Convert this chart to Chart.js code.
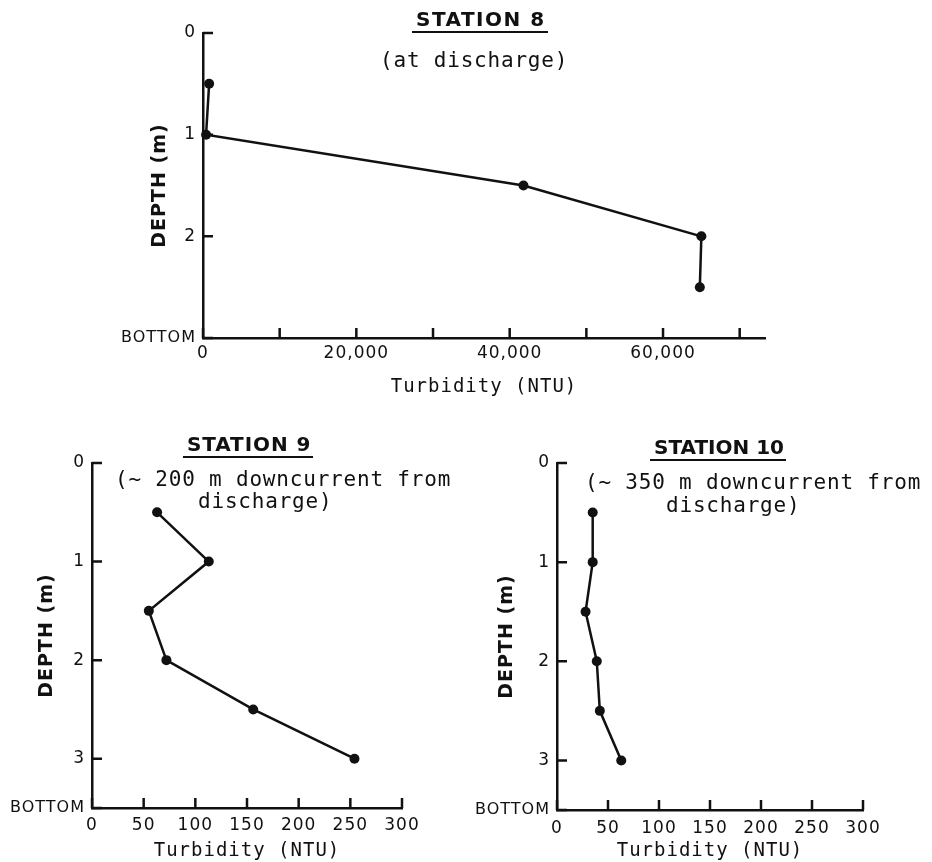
<!DOCTYPE html>
<html lang="en">
<head>
<meta charset="UTF-8">
<title>Turbidity profiles, stations 8-10</title>
<script src="https://cdn.jsdelivr.net/npm/chart.js"></script>
<style>
  body { margin: 0; background: #fff; width: 932px; height: 862px; position: relative; overflow: hidden; }
  .box { position: absolute; }
  .title {
    position: absolute; z-index: 2; white-space: nowrap;
    font-family: 'DejaVu Sans', sans-serif; font-weight: bold; font-size: 20px; line-height: 20px; color: #111;
    border-bottom: 2px solid #111; padding: 0 2px 2px 4px;
  }
  .note {
    position: absolute; z-index: 2; white-space: pre;
    font-family: 'DejaVu Sans Mono', monospace; font-size: 21px; line-height: 21px;
    letter-spacing: 0.8px; color: #111;
  }
</style>
</head>
<body>

<div class="title" style="left:412px;top:9px;letter-spacing:1.5px">STATION 8</div>
<div class="note" style="left:380px;top:50px">(at discharge)</div>

<div class="title" style="left:183px;top:434px;letter-spacing:0.9px">STATION 9</div>
<div class="note" style="left:115px;top:469px">(∼ 200 m downcurrent from</div>
<div class="note" style="left:198px;top:491px">discharge)</div>

<div class="title" style="left:650px;top:437px;letter-spacing:0">STATION 10</div>
<div class="note" style="left:585px;top:472px">(∼ 350 m downcurrent from</div>
<div class="note" style="left:666px;top:495px">discharge)</div>

<div class="box" style="left:100px;top:0;width:700px;height:405px"><canvas id="c8"></canvas></div>
<div class="box" style="left:0;top:420px;width:466px;height:442px"><canvas id="c9"></canvas></div>
<div class="box" style="left:466px;top:420px;width:466px;height:442px"><canvas id="c10"></canvas></div>

<script>
// depth (m) and turbidity (NTU)
const depth8 = [0.5, 1.0, 1.5, 2.0, 2.5];
const turbidity8 = [800, 400, 41800, 65000, 64800];

const depth9 = [0.5, 1.0, 1.5, 2.0, 2.5, 3.0];
const turbidity9 = [63, 113, 55, 72, 156, 254];

const depth10 = [0.5, 1.0, 1.5, 2.0, 2.5, 3.0];
const turbidity10 = [35, 35, 28, 39, 42, 63];

// axis ticks
const xTicks8 = [0, 10000, 20000, 30000, 40000, 50000, 60000, 70000];
const xLabels8 = ['0', '', '20,000', '', '40,000', '', '60,000', ''];
const xTicksSmall = [0, 50, 100, 150, 200, 250, 300];
const xLabelsSmall = ['0', '50', '100', '150', '200', '250', '300'];
const yTicks8 = [0, 1, 2, 3];
const yLabels8 = ['0', '1', '2', 'BOTTOM'];
const yTicksSmall = [0, 1, 2, 3, 3.5];
const yLabelsSmall = ['0', '1', '2', '3', 'BOTTOM'];

const INK = '#111';
const SANS = "'DejaVu Sans', sans-serif";
const MONO = "'DejaVu Sans Mono', monospace";

// typewritten look: a little space between letters
const spacing = {
    id: 'spacing',
    beforeUpdate(chart) { chart.ctx.letterSpacing = '1px'; },
    beforeDraw(chart) { chart.ctx.letterSpacing = '1px'; }
};

// tick marks point into the plot, like the original
const inwardTicks = {
    id: 'inwardTicks',
    afterDraw(chart) {
        const { ctx, chartArea: a, scales: { x, y } } = chart;
        ctx.save();
        ctx.strokeStyle = INK;
        ctx.lineWidth = 2.5;
        ctx.beginPath();
        x.ticks.forEach(t => {
            const px = x.getPixelForValue(t.value);
            ctx.moveTo(px, a.bottom);
            ctx.lineTo(px, a.bottom - 10);
        });
        y.ticks.forEach(t => {
            const py = y.getPixelForValue(t.value);
            ctx.moveTo(a.left, py);
            ctx.lineTo(a.left + 10, py);
        });
        ctx.stroke();
        ctx.restore();
    }
};

function profile(id, depth, turbidity, o) {
    new Chart(document.getElementById(id), {
        type: 'scatter',
        data: {
            datasets: [{
                data: depth.map((d, i) => ({ x: turbidity[i], y: d })),
                showLine: true,
                borderColor: INK,
                borderWidth: 2.5,
                pointRadius: 5,
                pointBackgroundColor: INK,
                pointBorderWidth: 0,
                tension: 0,
                clip: false
            }]
        },
        options: {
            responsive: true,
            maintainAspectRatio: false,
            animation: false,
            layout: { padding: { left: 0, top: o.top, right: o.right, bottom: 0 } },
            plugins: { legend: { display: false }, tooltip: { enabled: false } },
            scales: {
                x: {
                    type: 'linear',
                    min: 0,
                    max: o.xMax,
                    afterBuildTicks: s => { s.ticks = o.xTicks.map(v => ({ value: v })); },
                    afterFit: s => { s.height = o.xHeight; },
                    grid: { display: false, drawTicks: false },
                    border: { display: true, color: INK, width: 2.5 },
                    ticks: {
                        callback: (v, i) => o.xLabels[i],
                        color: INK,
                        font: { family: SANS, size: 17 },
                        padding: o.xPad,
                        maxRotation: 0,
                        autoSkip: false
                    },
                    title: {
                        display: true,
                        text: 'Turbidity (NTU)',
                        color: INK,
                        font: { family: MONO, size: 19 },
                        padding: { top: 0, bottom: o.xTitlePad }
                    }
                },
                y: {
                    type: 'linear',
                    reverse: true,
                    min: 0,
                    max: o.yMax,
                    afterBuildTicks: s => { s.ticks = o.yTicks.map(v => ({ value: v })); },
                    afterFit: s => { s.width = o.yWidth; },
                    grid: { display: false, drawTicks: false },
                    border: { display: true, color: INK, width: 2.5 },
                    ticks: {
                        callback: (v, i) => o.yLabels[i],
                        color: INK,
                        font: c => ({ family: SANS, size: c.index === o.yTicks.length - 1 ? 16 : 17 }),
                        padding: 7,
                        autoSkip: false
                    },
                    title: {
                        display: true,
                        text: 'DEPTH (m)',
                        color: INK,
                        font: { family: SANS, size: 19, weight: 'bold' },
                        padding: { top: o.yTitlePad, bottom: 0 }
                    }
                }
            }
        },
        plugins: [spacing, inwardTicks]
    });
}

profile('c8', depth8, turbidity8, {
    xMax: 73300, yMax: 3,
    xTicks: xTicks8, xLabels: xLabels8, yTicks: yTicks8, yLabels: yLabels8,
    top: 33, right: 35, xHeight: 67, yWidth: 103, xPad: 5, xTitlePad: 7, yTitlePad: 49
});

profile('c9', depth9, turbidity9, {
    xMax: 300, yMax: 3.5,
    xTicks: xTicksSmall, xLabels: xLabelsSmall, yTicks: yTicksSmall, yLabels: yLabelsSmall,
    top: 43, right: 64, xHeight: 54, yWidth: 92, xPad: 7, xTitlePad: 0, yTitlePad: 36
});

profile('c10', depth10, turbidity10, {
    xMax: 300, yMax: 3.5,
    xTicks: xTicksSmall, xLabels: xLabelsSmall, yTicks: yTicksSmall, yLabels: yLabelsSmall,
    top: 43, right: 69, xHeight: 52, yWidth: 91, xPad: 8, xTitlePad: 0, yTitlePad: 30
});
</script>
</body>
</html>
